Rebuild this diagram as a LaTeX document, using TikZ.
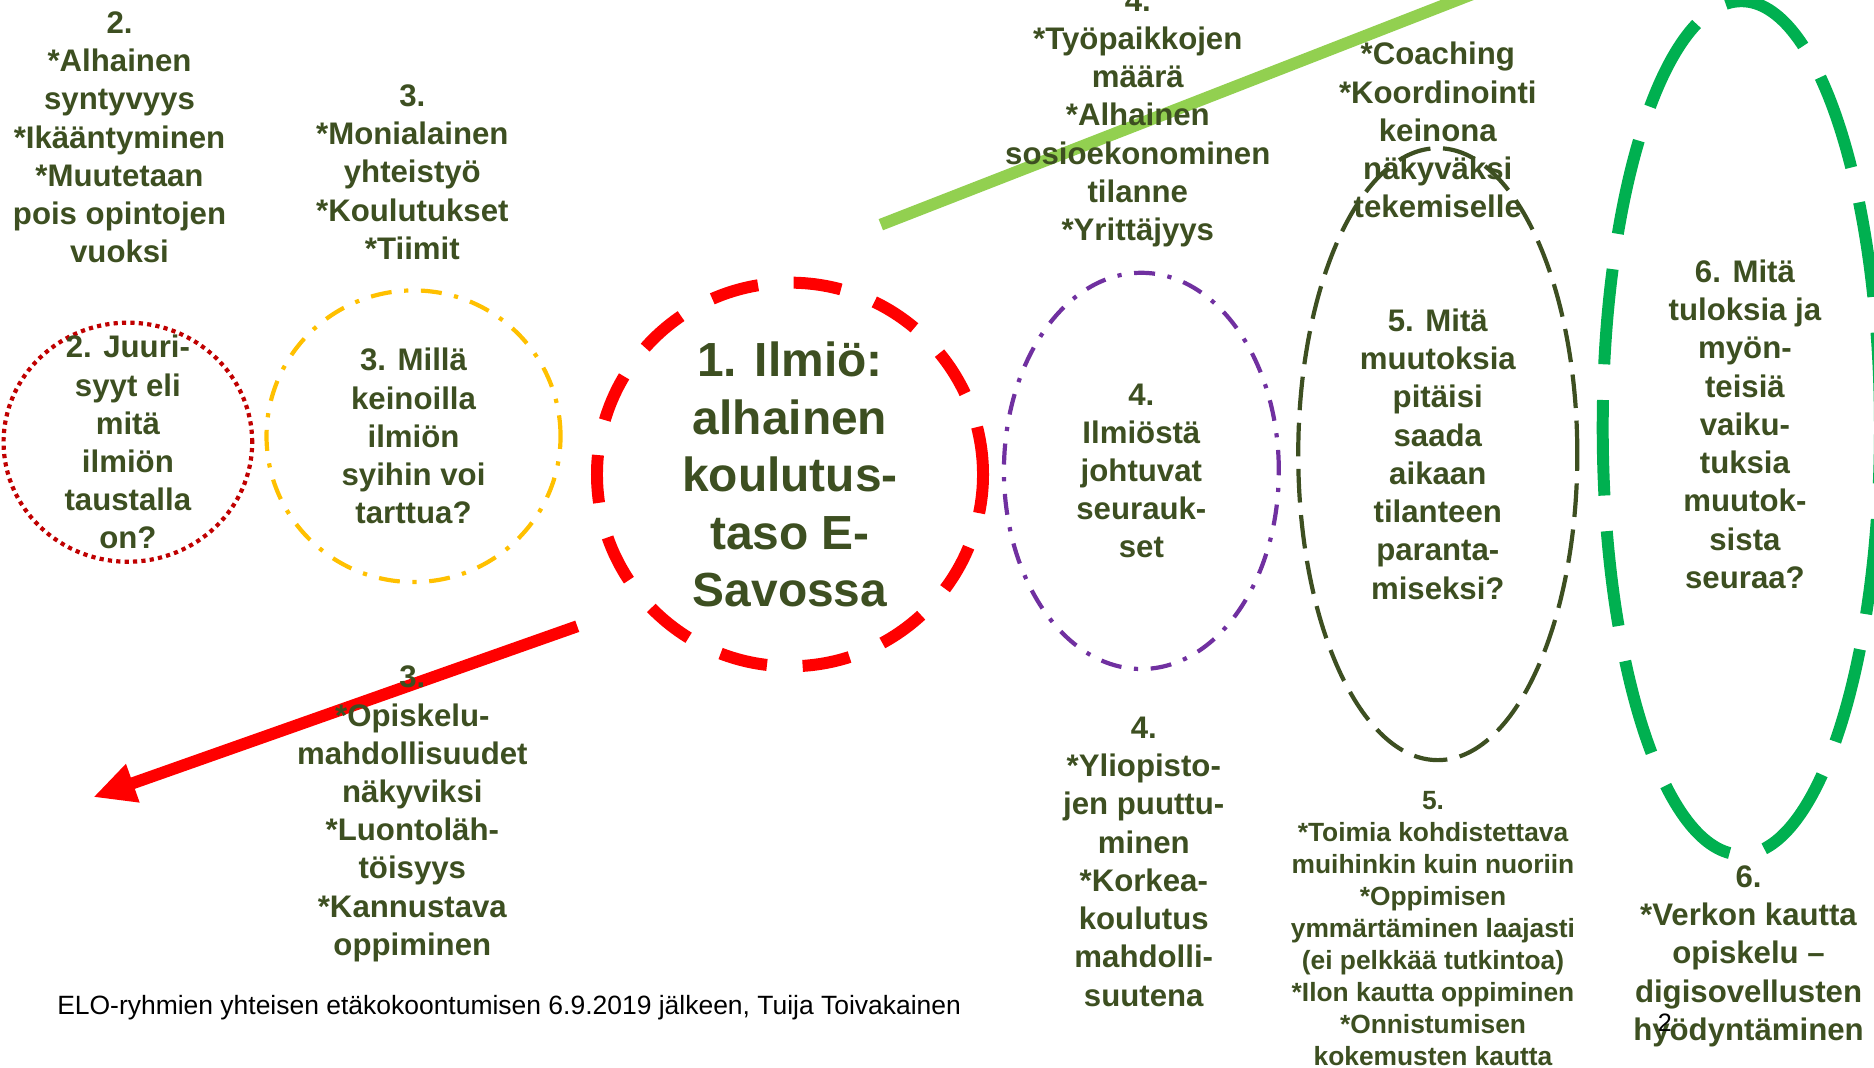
\documentclass[tikz,border=0pt]{standalone}
\usepackage{fontspec}
\setmainfont{Liberation Sans}
\usetikzlibrary{positioning, arrows.meta, shapes.geometric}
\definecolor{olivetext}{RGB}{61,79,33}
\definecolor{rootred}{RGB}{192,0,0}
\definecolor{meansyellow}{RGB}{255,192,0}
\definecolor{coreRed}{RGB}{255,0,0}
\definecolor{effectpurple}{RGB}{112,48,160}
\definecolor{resultgreen}{RGB}{0,176,80}
\definecolor{limegreen}{RGB}{146,208,80}

\tikzset{
  txt/.style={align=center, text=olivetext, inner sep=0pt,
    font=\fontsize{14.85}{18.2}\selectfont\bfseries},
  smalltxt/.style={txt, font=\fontsize{12.55}{15.2}\selectfont\bfseries},
  bigtxt/.style={txt, font=\fontsize{22.8}{27.4}\selectfont\bfseries},
  oval/.style={ellipse, inner sep=0pt, line cap=butt},
}

\begin{document}
\begin{tikzpicture}[x=0.2mm, y=-0.2mm]
            \path[use as bounding box, clip] (0,0) rectangle (1568,893);

            % Viivat (tekstien alle)
            \coordinate (lineLow) at (737,188);
            \coordinate (lineHigh) at (1245,-10);
            \draw[limegreen, line width=5.7pt] (lineLow) -- (lineHigh);

            \coordinate (arrowStart) at (483,524);
            \coordinate (arrowTip) at (78,667);
            \draw[coreRed, line width=5.7pt, -{Triangle[length=20pt, width=18pt]}]
                (arrowStart) -- (arrowTip);

            % Soikiot
            \node[oval, draw=rootred, line width=2pt, dash pattern=on 2pt off 2pt,
                minimum width=41.6mm, minimum height=40mm] (juuri) at (107,370) {};
            \node[oval, draw=meansyellow, line width=2pt,
                dash pattern=on 10pt off 6pt on 2pt off 6pt,
                minimum width=49.2mm, minimum height=48.8mm] (keinot) at (346,365) {};
            \node[oval, draw=coreRed, line width=5.7pt, dash pattern=on 22.8pt off 17pt,
                minimum width=64.6mm, minimum height=64.2mm] (ilmio) at (661,397) {};
            \node[oval, draw=effectpurple, line width=2pt,
                dash pattern=on 10pt off 6pt on 2pt off 6pt,
                minimum width=46mm, minimum height=66.3mm] (seuraukset) at (955,394) {};
            \node[oval, draw=olivetext, line width=2pt, dash pattern=on 16pt off 6pt,
                minimum width=46.7mm, minimum height=102.4mm] (muutokset) at (1203,380) {};
            \node[oval, draw=resultgreen, line width=5.7pt, dash pattern=on 45.5pt off 17pt,
                minimum width=46.4mm, minimum height=142.8mm] (tulokset) at (1457,358) {};

            % Tekstit soikioissa
            \node[txt] (juuriTxt) at (juuri) {2. Juuri-\\syyt eli\\mitä\\ilmiön\\taustalla\\on?};
            \node[txt] (keinotTxt) at (keinot) {3. Millä\\keinoilla\\ilmiön\\syihin voi\\tarttua?};
            \node[bigtxt] (ilmioTxt) at (ilmio) {1. Ilmiö:\\alhainen\\koulutus-\\taso E-\\Savossa};
            \node[txt] (seurauksetTxt) at (seuraukset) {4.\\Ilmiöstä\\johtuvat\\seurauk-\\set};
            \node[txt] (muutoksetTxt) at (muutokset) {5. Mitä\\muutoksia\\pitäisi\\saada\\aikaan\\tilanteen\\paranta-\\miseksi?};
            \node[txt] (tuloksetTxt) at (1460,355) {6. Mitä\\tuloksia ja\\myön-\\teisiä\\vaiku-\\tuksia\\muutok-\\sista\\seuraa?};

            % Ylälaidan listat
            \node[txt] (syyt) at (100,115) {2.\\*Alhainen\\syntyvyys\\*Ikääntyminen\\*Muutetaan\\pois opintojen\\vuoksi};
            \node[txt] (yhteistyo) at (345,144) {3.\\*Monialainen\\yhteistyö\\*Koulutukset\\*Tiimit};
            \node[txt] (tyopaikat) at (952,99) {4.\\*Työpaikkojen\\määrä\\*Alhainen\\sosioekonominen\\tilanne\\*Yrittäjyys};
            \node[txt] (coaching) at (1203,109) {*Coaching\\*Koordinointi\\keinona\\näkyväksi\\tekemiselle};

            % Alalaidan listat
            \node[txt] (opiskelu) at (345,681) {3.\\*Opiskelu-\\mahdollisuudet\\näkyviksi\\*Luontoläh-\\töisyys\\*Kannustava\\oppiminen};
            \node[txt] (yliopistot) at (957,721) {4.\\*Yliopisto-\\jen puuttu-\\minen\\*Korkea-\\koulutus\\mahdolli-\\suutena};
            \node[smalltxt] (toimet) at (1199,777) {5.\\*Toimia kohdistettava\\muihinkin kuin nuoriin\\*Oppimisen\\ymmärtäminen laajasti\\(ei pelkkää tutkintoa)\\*Ilon kautta oppiminen\\*Onnistumisen\\kokemusten kautta};
            \node[txt] (verkko) at (1463,800) {6.\\*Verkon kautta\\opiskelu –\\digisovellusten\\hyödyntäminen};

            % Alatunniste
            \node[inner sep=0pt, font=\fontsize{12.6}{15}\selectfont] (footer) at (426,843)
                {ELO-ryhmien yhteisen etäkokoontumisen 6.9.2019 jälkeen, Tuija Toivakainen};
            \node[inner sep=0pt, font=\fontsize{12}{14}\selectfont] (pageNo) at (1393,856) {2};
        \end{tikzpicture}
\end{document}
